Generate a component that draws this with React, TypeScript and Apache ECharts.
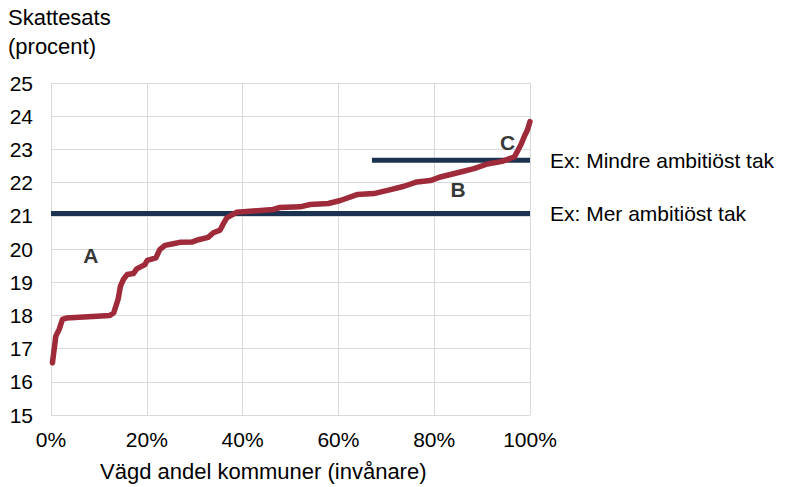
import React, { useEffect, useRef } from "react";
import * as echarts from "echarts";

const curveX = [0.3, 1.0, 1.7, 2.4, 3.2, 12.3, 13.1, 14.0, 14.5, 15.1, 15.9, 17.2, 17.9, 19.6, 20.1, 21.9, 22.7, 23.8, 25.5, 26.9, 29.4, 30.8, 32.8, 33.9, 35.3, 35.9, 36.7, 38.8, 46.4, 47.8, 52.0, 54.1, 57.9, 60.4, 63.9, 67.4, 70.9, 73.7, 76.4, 79.2, 81.3, 85.5, 88.3, 91.1, 94.2, 96.7, 97.4, 98.1, 98.9, 99.5, 100];
const curveY = [16.57, 17.37, 17.58, 17.88, 17.92, 18.0, 18.08, 18.48, 18.88, 19.08, 19.23, 19.26, 19.4, 19.53, 19.66, 19.73, 19.98, 20.11, 20.16, 20.2, 20.21, 20.28, 20.35, 20.49, 20.57, 20.74, 20.94, 21.11, 21.19, 21.25, 21.27, 21.34, 21.37, 21.46, 21.64, 21.67, 21.79, 21.89, 22.02, 22.06, 22.17, 22.32, 22.42, 22.56, 22.64, 22.77, 22.95, 23.14, 23.42, 23.6, 23.84];

const capLow = 21.07;
const capHigh = 22.67;
const capLowRange = [0, 100];
const capHighRange = [67, 100];
const capLowLabel = "Ex: Mer ambitiöst tak";
const capHighLabel = "Ex: Mindre ambitiöst tak";

const zoneLabels = ["A", "B", "C"];
const zoneX = [8.3, 85.0, 95.3];
const zoneY = [19.8, 21.79, 23.2];

const yTicks = [15, 16, 17, 18, 19, 20, 21, 22, 23, 24, 25];
const xTicks = ["0%", "20%", "40%", "60%", "80%", "100%"];

const FONT = "Arial, 'Liberation Sans', sans-serif";

export default function App() {
  const ref = useRef<HTMLDivElement>(null);
  useEffect(() => {
    if (!ref.current) return;
    const chart = echarts.init(ref.current, null, { renderer: "svg" });
    const curve = curveX.map((x, i) => [x, curveY[i]]);
    const text = { fontFamily: FONT, fontSize: 21, color: "#000" };
    chart.setOption({
      animation: false,
      textStyle: { fontFamily: FONT },
      grid: { left: 51, top: 83, right: 259, bottom: 72, containLabel: false },
      xAxis: {
        type: "value",
        min: 0,
        max: 100,
        interval: 20,
        axisLine: { show: false },
        axisTick: { show: false },
        splitLine: { show: true, lineStyle: { color: "#d9d9d9", width: 1 } },
        axisLabel: {
          ...text,
          margin: 14,
          formatter: (v: number) => xTicks[Math.round(v / 20)] ?? "",
        },
      },
      yAxis: {
        type: "value",
        min: yTicks[0],
        max: yTicks[yTicks.length - 1],
        interval: 1,
        axisLine: { show: false },
        axisTick: { show: false },
        splitLine: { show: true, lineStyle: { color: "#d9d9d9", width: 1 } },
        axisLabel: { ...text, margin: 18 },
      },
      graphic: [
        { type: "text", left: 8, top: 6, style: { text: "Skattesats", font: `22px ${FONT}`, fill: "#000" } },
        { type: "text", left: 8, top: 35, style: { text: "(procent)", font: `22px ${FONT}`, fill: "#000" } },
        { type: "text", left: 100, top: 460, style: { text: "Vägd andel kommuner (invånare)", font: `22px ${FONT}`, fill: "#000" } },
      ],
      series: [
        {
          type: "line",
          data: capLowRange.map((x) => [x, capLow]),
          symbol: "none",
          lineStyle: { color: "#1c3251", width: 5 },
          endLabel: { show: true, formatter: capLowLabel, distance: 20, ...text },
          z: 3,
        },
        {
          type: "line",
          data: capHighRange.map((x) => [x, capHigh]),
          symbol: "none",
          lineStyle: { color: "#1c3251", width: 5 },
          endLabel: { show: true, formatter: capHighLabel, distance: 20, ...text },
          z: 3,
        },
        {
          type: "line",
          data: curve,
          symbol: "none",
          lineStyle: { color: "#9e2a3a", width: 5.5, cap: "round", join: "round" },
          z: 4,
        },
        {
          type: "scatter",
          data: zoneLabels.map((l, i) => [zoneX[i], zoneY[i], l]),
          symbolSize: 0,
          label: {
            show: true,
            position: "inside",
            formatter: (p: any) => p.data[2],
            fontFamily: FONT,
            fontSize: 21,
            fontWeight: "bold",
            color: "#000",
          },
          z: 5,
        },
      ],
    });
    return () => chart.dispose();
  }, []);
  return <div ref={ref} style={{ width: 789, height: 487, position: "absolute", left: 0, top: 0 }} />;
}
